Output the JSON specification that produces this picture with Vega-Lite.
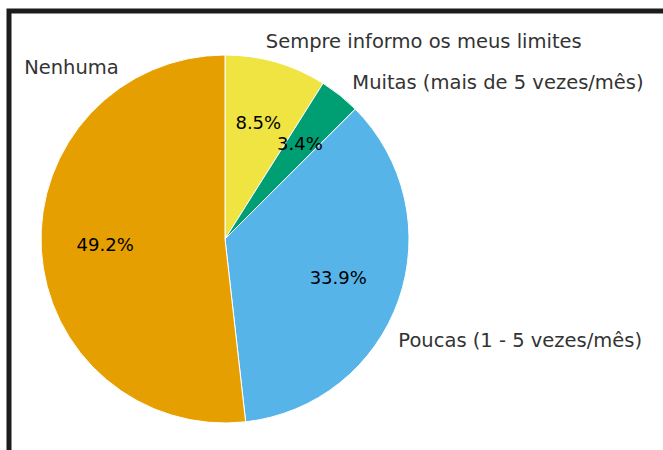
{
  "$schema": "https://vega.github.io/schema/vega-lite/v6.json",
  "autosize": "none",
  "padding": {"left": 9, "top": 11, "right": 0, "bottom": 0},
  "width": 700,
  "height": 500,
  "background": "white",
  "view": {"stroke": "#1c1c1c", "strokeWidth": 5, "fill": "white"},
  "config": {"view": {"stroke": "#1c1c1c", "strokeWidth": 5}},
  "data": {
    "values": [
      {"category": "Sempre informo os meus limites", "value": 8.5, "pct": "8.5%", "rank": 1, "labelAngle": 11.7},
      {"category": "Muitas (mais de 5 vezes/mês)", "value": 3.4, "pct": "3.4%", "rank": 2, "labelAngle": 39.3},
      {"category": "Poucas (1 - 5 vezes/mês)", "value": 33.9, "pct": "33.9%", "rank": 3, "labelAngle": 120.4},
      {"category": "Nenhuma", "value": 49.2, "pct": "49.2%", "rank": 4, "labelAngle": 328.1}
    ]
  },
  "layer": [
    {
      "mark": {"type": "arc", "x": 216, "y": 228, "radius": 184, "stroke": "white", "strokeWidth": 1},
      "encoding": {
        "theta": {"field": "value", "type": "quantitative", "stack": true},
        "order": {"field": "rank", "type": "quantitative"},
        "color": {
          "field": "category",
          "type": "nominal",
          "legend": null,
          "scale": {
            "domain": ["Sempre informo os meus limites", "Muitas (mais de 5 vezes/mês)", "Poucas (1 - 5 vezes/mês)", "Nenhuma"],
            "range": ["#F0E442", "#009E73", "#56B4E9", "#E69F00"]
          }
        }
      }
    },
    {
      "mark": {"type": "text", "x": 216, "y": 228, "radius": 120, "fontSize": 18, "font": "DejaVu Sans", "color": "black", "align": "center", "baseline": "middle"},
      "encoding": {
        "theta": {"field": "value", "type": "quantitative", "stack": true},
        "order": {"field": "rank", "type": "quantitative"},
        "text": {"field": "pct"}
      }
    },
    {
      "mark": {"type": "text", "x": 216, "y": 228, "radius": 201, "fontSize": 19.5, "font": "DejaVu Sans", "color": "#333333", "baseline": "middle",
        "align": {"expr": "datum.labelAngle < 180 ? 'left' : 'right'"}},
      "encoding": {
        "theta": {"field": "labelAngle", "type": "quantitative", "scale": {"domain": [0, 360], "range": [0, 6.283185307179586]}},
        "text": {"field": "category"}
      }
    }
  ],
  "resolve": {"scale": {"theta": "independent"}}
}
